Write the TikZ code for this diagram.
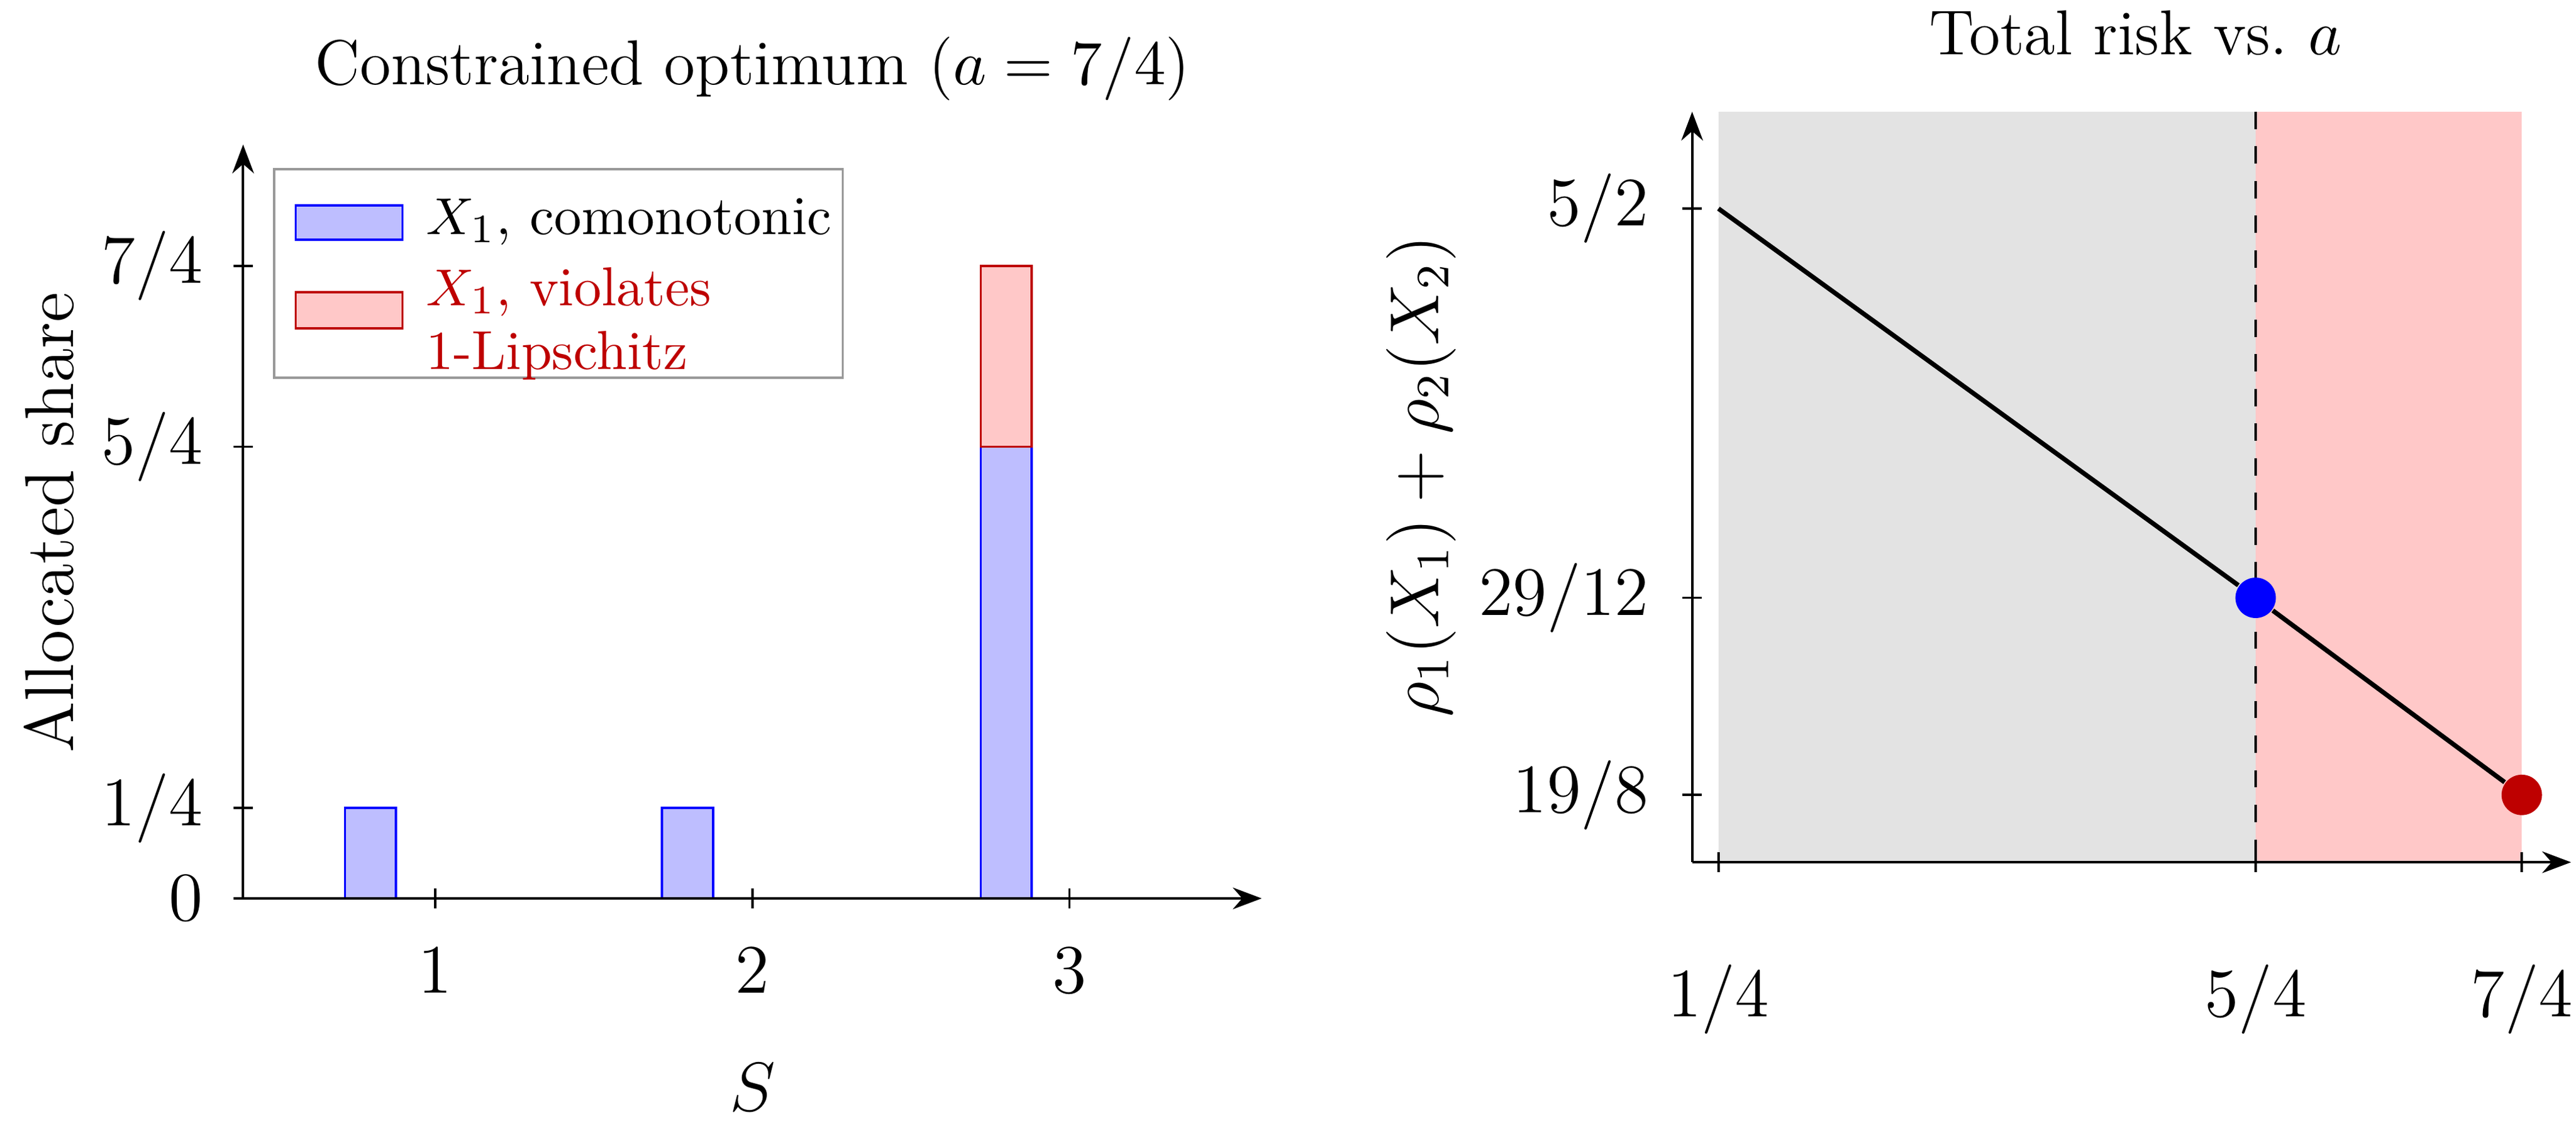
\documentclass[tikz,border=0pt]{standalone}
\usepackage{amsmath}
\usetikzlibrary{arrows.meta}
\definecolor{barblue}{RGB}{190,190,255}
\definecolor{barred}{RGB}{255,200,200}
\definecolor{darkred}{RGB}{190,0,0}
\tikzset{
  axis/.style = {-{Stealth[length=5pt]}, thin},
  tick/.style = {thin},
  bluebar/.style = {draw=blue, fill=barblue},
  redbar/.style = {draw=darkred, fill=barred},
  ticklab/.style = {font=\large},
  axlab/.style = {font=\large},
  dot/.style = {circle, inner sep=0pt, minimum size=7pt}
}
\begin{document}
\begin{tikzpicture}[x=0.01cm, y=-0.01cm]
	\useasboundingbox (0,0) rectangle (1568,691);
	% left panel
	\node[font=\fontsize{11}{13}\selectfont] (ltitle) at (458,42) {Constrained optimum ($a=7/4$)};
	\draw[bluebar] (210,547) rectangle (241,492);
	\draw[bluebar] (403,547) rectangle (434,492);
	\draw[bluebar] (597,547) rectangle (628,272);
	\draw[redbar] (597,272) rectangle (628,162);
	\coordinate (lo) at (148,547);
	\coordinate (lx) at (768,547);
	\coordinate (ly) at (148,88);
	\draw[axis] (lo) -- (lx);
	\draw[axis] (lo) -- (ly);
	\foreach \xx/\lab in {265/1, 458/2, 651/3} {
		\draw[tick] (\xx,541) -- (\xx,553);
		\node[ticklab, anchor=north] at (\xx,565) {$\lab$};
	}
	\foreach \yy/\lab in {547/{0}, 492/{1/4}, 272/{5/4}, 162/{7/4}} {
		\draw[tick] (142,\yy) -- (154,\yy);
		\node[ticklab, anchor=east] at (136,\yy) {$\lab$};
	}
	\node[ticklab] (lxlab) at (458,662) {$S$};
	\node[axlab, rotate=90] (lylab) at (30,318) {Allocated share};
	% legend
	\draw[gray!80, fill=white] (167,103) rectangle (513,230);
	\draw[bluebar] (180,125) rectangle (245,146);
	\node[anchor=west, font=\fontsize{9.5}{11}\selectfont] (leg1) at (247,135) {$X_1$, comonotonic};
	\draw[redbar] (180,178) rectangle (245,200);
	\node[anchor=west, text=darkred, align=left, font=\fontsize{9.5}{11}\selectfont] (leg2) at (247,197)
		{$X_1$, violates\\1-Lipschitz};
	% right panel
	\node[font=\fontsize{11}{13}\selectfont] (rtitle) at (1300,20) {Total risk vs.\ $a$};
	\fill[gray!22] (1046,68) rectangle (1373,525);
	\fill[barred] (1373,68) rectangle (1535,525);
	\draw[dashed] (1373,68) -- (1373,525);
	\coordinate (ro) at (1030,525);
	\coordinate (rx) at (1565,525);
	\coordinate (ry) at (1030,68);
	\draw[axis] (ro) -- (rx);
	\draw[axis] (ro) -- (ry);
	\foreach \xx/\lab in {1046/{1/4}, 1373/{5/4}, 1535/{7/4}} {
		\draw[tick] (\xx,519) -- (\xx,531);
		\node[ticklab, anchor=north] at (\xx,575) {$\lab$};
	}
	\foreach \yy/\lab in {127/{5/2}, 364/{29/12}, 484/{19/8}} {
		\draw[tick] (1024,\yy) -- (1036,\yy);
		\node[ticklab, anchor=east] at (1016,\yy) {$\lab$};
	}
	\node[dot, fill=blue] (pmid) at (1373,364) {};
	\node[dot, fill=darkred] (pend) at (1535,484) {};
	\coordinate (pstart) at (1046,127);
	\draw[thick] (pstart) -- (pmid) -- (pend);
	\node[ticklab] (rxlab) at (1300,748) {$a=X_1(\{S=3\})$};
	\node[axlab, rotate=90] (rylab) at (865,290) {$\rho_1(X_1)+\rho_2(X_2)$};
\end{tikzpicture}
\end{document}
